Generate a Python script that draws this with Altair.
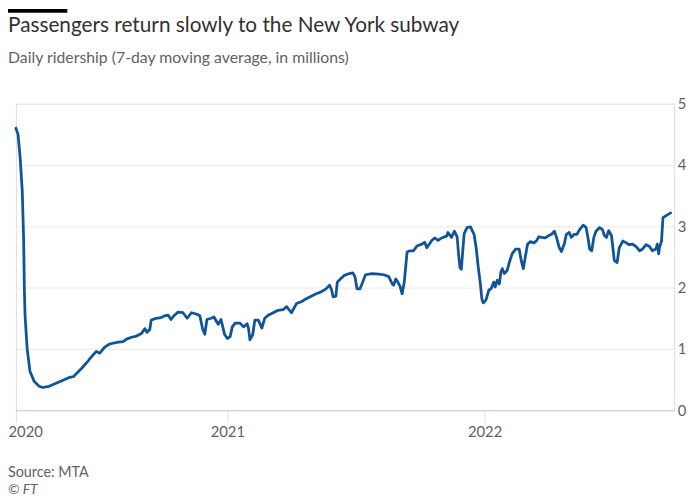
import altair as alt
import pandas as pd

dates = [
    "2020-03-07", "2020-03-10", "2020-03-13", "2020-03-16", "2020-03-18", "2020-03-19",
    "2020-03-20", "2020-03-23", "2020-03-27", "2020-04-02", "2020-04-09", "2020-04-14",
    "2020-04-23", "2020-05-07", "2020-05-21", "2020-05-28", "2020-06-01", "2020-06-08",
    "2020-06-15", "2020-06-22", "2020-06-29", "2020-07-04", "2020-07-11", "2020-07-18",
    "2020-07-30", "2020-08-06", "2020-08-11", "2020-08-18", "2020-08-25", "2020-09-01",
    "2020-09-06", "2020-09-09", "2020-09-13", "2020-09-15", "2020-09-22", "2020-09-29",
    "2020-10-04", "2020-10-09", "2020-10-13", "2020-10-18", "2020-10-23", "2020-10-30",
    "2020-11-05", "2020-11-11", "2020-11-18", "2020-11-23", "2020-11-27", "2020-11-30",
    "2020-12-03", "2020-12-09", "2020-12-13", "2020-12-16", "2020-12-19", "2020-12-23",
    "2020-12-28", "2021-01-01", "2021-01-05", "2021-01-08", "2021-01-12", "2021-01-19",
    "2021-01-24", "2021-01-29", "2021-01-31", "2021-02-02", "2021-02-06", "2021-02-09",
    "2021-02-14", "2021-02-19", "2021-02-23", "2021-02-28", "2021-03-07", "2021-03-14",
    "2021-03-21", "2021-03-26", "2021-04-02", "2021-04-09", "2021-04-16", "2021-04-23",
    "2021-04-30", "2021-05-07", "2021-05-14", "2021-05-21", "2021-05-26", "2021-05-29",
    "2021-05-31", "2021-06-04", "2021-06-06", "2021-06-11", "2021-06-16", "2021-06-23",
    "2021-06-28", "2021-07-01", "2021-07-04", "2021-07-08", "2021-07-11", "2021-07-16",
    "2021-07-25", "2021-08-04", "2021-08-11", "2021-08-18", "2021-08-23", "2021-08-25",
    "2021-08-28", "2021-08-31", "2021-09-03", "2021-09-06", "2021-09-09", "2021-09-13",
    "2021-09-17", "2021-09-22", "2021-09-27", "2021-10-04", "2021-10-08", "2021-10-11",
    "2021-10-18", "2021-10-22", "2021-10-27", "2021-11-01", "2021-11-08", "2021-11-10",
    "2021-11-15", "2021-11-19", "2021-11-23", "2021-11-25", "2021-11-27", "2021-11-29",
    "2021-12-01", "2021-12-03", "2021-12-07", "2021-12-12", "2021-12-17", "2021-12-20",
    "2021-12-23", "2021-12-26", "2021-12-28", "2021-12-30", "2022-01-03", "2022-01-07",
    "2022-01-10", "2022-01-14", "2022-01-16", "2022-01-19", "2022-01-22", "2022-01-24",
    "2022-01-26", "2022-01-29", "2022-02-02", "2022-02-05", "2022-02-09", "2022-02-14",
    "2022-02-19", "2022-02-22", "2022-02-25", "2022-02-28", "2022-03-03", "2022-03-07",
    "2022-03-12", "2022-03-16", "2022-03-19", "2022-03-23", "2022-03-28", "2022-04-02",
    "2022-04-06", "2022-04-10", "2022-04-13", "2022-04-17", "2022-04-20", "2022-04-24",
    "2022-04-27", "2022-05-01", "2022-05-04", "2022-05-08", "2022-05-12", "2022-05-16",
    "2022-05-21", "2022-05-25", "2022-05-28", "2022-05-30", "2022-06-02", "2022-06-05",
    "2022-06-08", "2022-06-13", "2022-06-17", "2022-06-20", "2022-06-23", "2022-06-26",
    "2022-06-30", "2022-07-02", "2022-07-04", "2022-07-08", "2022-07-11", "2022-07-16",
    "2022-07-21", "2022-07-25", "2022-07-30", "2022-08-04", "2022-08-09", "2022-08-13",
    "2022-08-18", "2022-08-23", "2022-08-27", "2022-09-01", "2022-09-03", "2022-09-05",
    "2022-09-06", "2022-09-09", "2022-09-11", "2022-09-15", "2022-09-19", "2022-09-22",
]

ridership = [
    4.60, 4.50, 4.12, 3.58, 2.77, 1.97,
    1.54, 1.00, 0.63, 0.47, 0.39, 0.37,
    0.39, 0.46, 0.53, 0.55, 0.60, 0.68,
    0.77, 0.87, 0.96, 0.93, 1.03, 1.08,
    1.11, 1.12, 1.16, 1.19, 1.21, 1.25,
    1.33, 1.27, 1.32, 1.47, 1.50, 1.51,
    1.54, 1.55, 1.48, 1.55, 1.60, 1.59,
    1.50, 1.59, 1.57, 1.54, 1.32, 1.24,
    1.48, 1.50, 1.52, 1.46, 1.40, 1.48,
    1.24, 1.17, 1.20, 1.36, 1.42, 1.42,
    1.36, 1.41, 1.34, 1.15, 1.23, 1.47,
    1.47, 1.34, 1.50, 1.55, 1.59, 1.63,
    1.64, 1.69, 1.59, 1.74, 1.77, 1.82,
    1.86, 1.90, 1.93, 1.98, 2.04, 1.96,
    1.85, 1.86, 2.09, 2.15, 2.20, 2.23,
    2.24, 2.18, 1.98, 1.98, 2.06, 2.21,
    2.23, 2.22, 2.21, 2.18, 2.06, 2.04,
    2.14, 2.09, 2.02, 1.90, 2.09, 2.58,
    2.60, 2.60, 2.68, 2.71, 2.74, 2.65,
    2.77, 2.81, 2.77, 2.81, 2.84, 2.90,
    2.82, 2.92, 2.83, 2.55, 2.33, 2.30,
    2.60, 2.88, 2.98, 2.99, 2.87, 2.65,
    2.33, 2.06, 1.82, 1.75, 1.80, 1.96,
    1.98, 2.09, 2.01, 2.12, 2.06, 2.25,
    2.31, 2.23, 2.28, 2.41, 2.55, 2.63,
    2.63, 2.44, 2.31, 2.52, 2.71, 2.75,
    2.73, 2.77, 2.83, 2.82, 2.81, 2.85,
    2.87, 2.92, 2.82, 2.65, 2.59, 2.71,
    2.87, 2.90, 2.82, 2.87, 2.87, 2.95,
    3.02, 2.98, 2.79, 2.63, 2.60, 2.82,
    2.92, 2.98, 2.95, 2.85, 2.82, 2.93,
    2.85, 2.65, 2.44, 2.41, 2.65, 2.76,
    2.73, 2.70, 2.71, 2.67, 2.60, 2.63,
    2.70, 2.67, 2.60, 2.63, 2.71, 2.55,
    2.65, 2.76, 3.14, 3.17, 3.20, 3.22,
]

x_domain = [alt.DateTime(year=2020, month=3, date=7), alt.DateTime(year=2022, month=9, date=27)]
x_ticks = [alt.DateTime(year=2020, month=3, date=7), alt.DateTime(year=2021, month=1, date=1),
           alt.DateTime(year=2022, month=1, date=1)]
y_ticks = [0, 1, 2, 3, 4, 5]

TITLE = "Passengers return slowly to the New York subway"
SUBTITLE = "Daily ridership (7-day moving average, in millions)"
SOURCE = "Source: MTA"
CREDIT = "© FT"

FONT = "Lato"
TEXT_DARK = "#33302e"
TEXT_GREY = "#66605c"

df = pd.DataFrame({"date": dates, "value": ridership})

line = alt.Chart(df).mark_line(
    color="#0f5499", strokeWidth=2.8, strokeJoin="round", strokeCap="round"
).encode(
    x=alt.X(
        "date:T",
        title=None,
        scale=alt.Scale(domain=x_domain),
        axis=alt.Axis(
            values=x_ticks, format="%Y", grid=False, domainColor="#d4cbc3",
            tickColor="#e3dcd5", tickSize=12, labelPadding=3, labelFont=FONT,
            labelFontSize=15, labelColor=TEXT_GREY, labelFlush=True,
            labelFlushOffset=8, zindex=1,
        ),
    ),
    y=alt.Y(
        "value:Q",
        title=None,
        scale=alt.Scale(domain=[0, 5], nice=False),
        axis=alt.Axis(
            orient="right", values=y_ticks, grid=True, gridColor="#efe9e4",
            domain=False, ticks=False, labelPadding=3, labelFont=FONT,
            labelFontSize=15, labelColor=TEXT_GREY,
        ),
    ),
)

bar = alt.Chart(pd.DataFrame({"k": [0]})).mark_rule(color="#000000", strokeWidth=4).encode(
    x=alt.value(-8), x2=alt.value(52), y=alt.value(-94)
)


def text_layer(txt, y, size, color, style="normal"):
    return alt.Chart(pd.DataFrame({"t": [txt]})).mark_text(
        align="left", baseline="middle", font=FONT, fontSize=size,
        fontStyle=style, color=color,
    ).encode(text="t:N", x=alt.value(-8), y=alt.value(y))


title = text_layer(TITLE, -79, 21, TEXT_DARK)
subtitle = text_layer(SUBTITLE, -46, 16, TEXT_GREY)
source = text_layer(SOURCE, 374, 14.5, TEXT_GREY)
credit = text_layer(CREDIT, 391, 14, TEXT_GREY, "italic")

chart = alt.layer(line, bar, title, subtitle, source, credit).properties(
    width=666,
    height=310,
    autosize=alt.AutoSizeParams(type="none"),
    padding={"left": 8, "top": 94, "right": 18, "bottom": 90},
).configure_view(stroke=None).configure(background="white")

chart.save("out.html", embed_options={"renderer": "svg", "actions": False})
